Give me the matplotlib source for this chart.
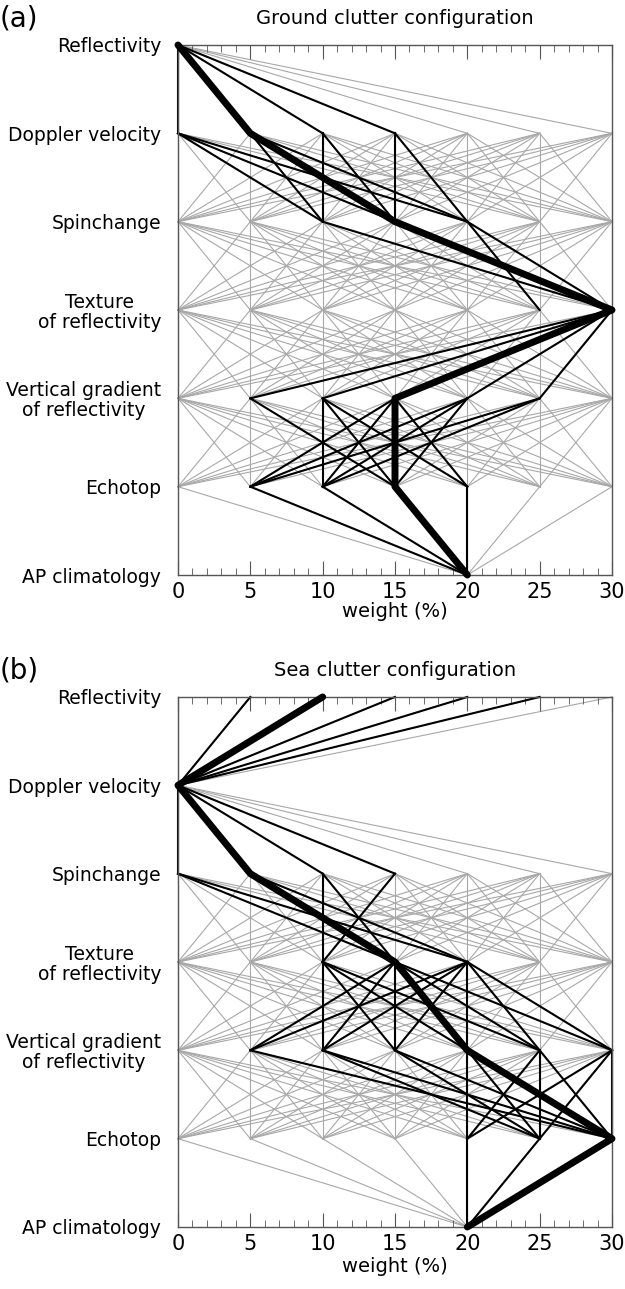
"""
Weight-combination diagrams for the clutter classifier configurations.
Each vertical level is one input field; a line joins the weights of two
neighbouring fields in a tested combination (gray), the best combinations
(black) and the selected one (thick).
"""

import matplotlib.pyplot as plt
from matplotlib.ticker import MultipleLocator

plt.rcParams["font.family"] = ["DejaVu Sans"]

FIELDS = [
    "Reflectivity",
    "Doppler velocity",
    "Spinchange",
    "Texture\nof reflectivity",
    "Vertical gradient\nof reflectivity",
    "Echotop",
    "AP climatology",
]
WEIGHTS = [0, 5, 10, 15, 20, 25, 30]

# weights allowed on every level
allowed_a = [[0], WEIGHTS, WEIGHTS, WEIGHTS, WEIGHTS, WEIGHTS, [20]]
allowed_b = [WEIGHTS, [0], WEIGHTS, WEIGHTS, WEIGHTS, WEIGHTS, [20]]

# links of the best combinations, one list per gap between levels
best_links_a = [
    [(0, 0), (0, 5), (0, 10), (0, 15)],
    [(0, 10), (0, 15), (0, 20), (5, 10), (5, 15), (5, 20), (10, 10), (10, 15),
     (15, 15), (15, 20)],
    [(10, 30), (15, 30), (20, 25), (20, 30)],
    [(30, 5), (30, 10), (30, 15), (30, 20), (30, 25)],
    [(5, 15), (10, 10), (10, 15), (10, 20), (15, 5), (15, 10), (15, 15),
     (15, 20), (20, 5), (20, 10), (20, 15), (25, 5), (25, 10)],
    [(5, 20), (10, 20), (15, 20), (20, 20)],
]
best_links_b = [
    [(5, 0), (10, 0), (15, 0), (20, 0), (25, 0)],
    [(0, 0), (0, 5), (0, 10), (0, 15)],
    [(0, 15), (0, 20), (5, 15), (5, 20), (10, 10), (10, 15), (15, 10)],
    [(10, 10), (10, 15), (10, 20), (10, 25), (15, 5), (15, 10), (15, 15),
     (15, 20), (15, 25), (15, 30), (20, 5), (20, 10), (20, 15), (20, 20),
     (20, 25), (20, 30)],
    [(5, 30), (10, 25), (10, 30), (15, 25), (15, 30), (20, 20), (20, 25),
     (20, 30), (25, 20), (25, 25), (25, 30), (30, 20), (30, 25), (30, 30)],
    [(20, 20), (25, 20), (30, 20)],
]

optimal_a = [0, 5, 15, 30, 15, 15, 20]
optimal_b = [10, 0, 5, 15, 20, 30, 20]


def draw_panel(ax, allowed, best_links, optimal, title, tag, xlabel_pad):
    for level in range(len(allowed) - 1):
        for w0 in allowed[level]:
            for w1 in allowed[level + 1]:
                ax.plot([w0, w1], [level, level + 1], color="#a8a8a8", lw=0.8,
                        zorder=1, clip_on=False)
        for w0, w1 in best_links[level]:
            ax.plot([w0, w1], [level, level + 1], color="black", lw=1.5,
                    zorder=2, clip_on=False)
    ax.plot(optimal, range(len(optimal)), color="black", lw=5,
            solid_joinstyle="round", solid_capstyle="round", zorder=3,
            clip_on=False)

    ax.set_xlim(0, 30)
    ax.set_ylim(len(FIELDS) - 1, 0)
    ax.set_yticks(range(len(FIELDS)))
    ax.set_yticklabels(FIELDS, fontsize=13.5, multialignment="center",
                       linespacing=1.05)
    ax.tick_params(axis="y", length=0, pad=12)
    ax.xaxis.set_major_locator(MultipleLocator(5))
    ax.xaxis.set_minor_locator(MultipleLocator(1))
    ax.tick_params(axis="x", which="major", direction="in", length=10,
                   top=True, labelsize=15, color="#555555", pad=5)
    ax.tick_params(axis="x", which="minor", direction="in", length=5,
                   top=True, color="#555555")
    ax.set_xlabel("weight (%)", fontsize=14, labelpad=xlabel_pad)
    for spine in ax.spines.values():
        spine.set_color("#555555")
        spine.set_linewidth(1.0)
    ax.set_title(title, fontsize=14, pad=15)
    ax.text(-0.41, 1.05, tag, transform=ax.transAxes, fontsize=20,
            va="center", ha="left")


fig = plt.figure(figsize=(6.25, 12.89), dpi=100)
ax_a = fig.add_axes([0.2848, 0.5539, 0.6944, 0.4112])
ax_b = fig.add_axes([0.2848, 0.0481, 0.6944, 0.4112])

draw_panel(ax_a, allowed_a, best_links_a, optimal_a,
           "Ground clutter configuration", "(a)", 0)
draw_panel(ax_b, allowed_b, best_links_b, optimal_b,
           "Sea clutter configuration", "(b)", 2)

fig.savefig("out.png", dpi=100)
